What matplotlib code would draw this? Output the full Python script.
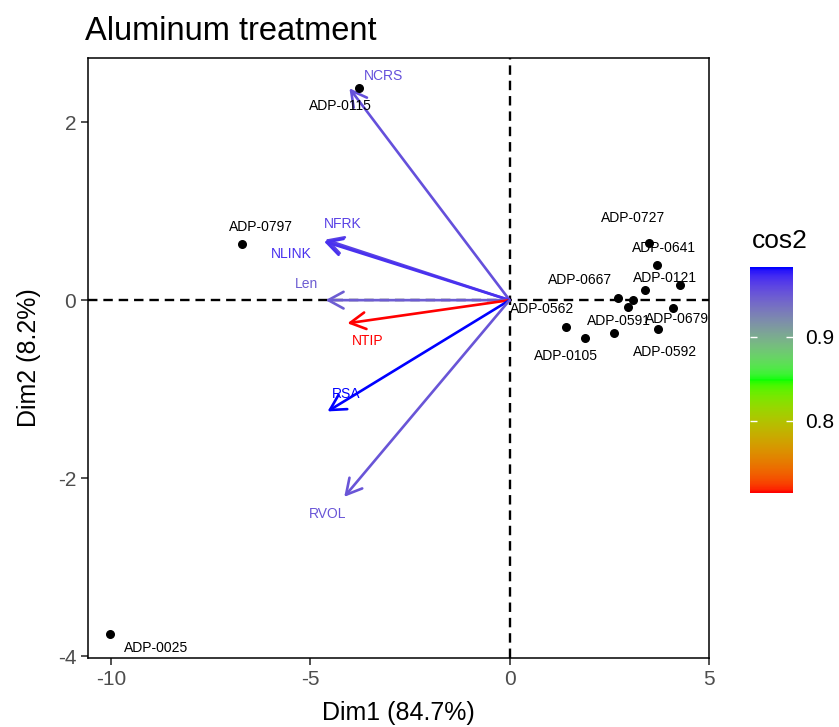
import numpy as np
import matplotlib
matplotlib.use("Agg")
import matplotlib.pyplot as plt
from matplotlib.colors import ListedColormap, Normalize

plt.rcParams['font.family'] = ['Liberation Sans', 'DejaVu Sans']
plt.rcParams['axes.unicode_minus'] = False

# individuals (Dim1, Dim2); empty label = point left unlabelled by repel
ind_names = ['ADP-0115', 'ADP-0797', 'ADP-0025', 'ADP-0727', 'ADP-0641',
             'ADP-0121', '', 'ADP-0667', '', 'ADP-0591', 'ADP-0679',
             'ADP-0592', '', 'ADP-0105', 'ADP-0562']
ind_x = [-3.79, -6.71, -10.02, 3.50, 3.71, 4.27, 3.40, 2.71, 3.10, 2.96,
         4.10, 3.72, 2.61, 1.90, 1.41]
ind_y = [2.38, 0.63, -3.75, 0.64, 0.395, 0.17, 0.11, 0.02, 0.0, -0.08,
         -0.09, -0.32, -0.37, -0.43, -0.30]

# variables (arrows) and their cos2
var_names = ['NCRS', 'NFRK', 'NLINK', 'Len', 'NTIP', 'RSA', 'RVOL']
var_x = [-4.02, -4.63, -4.66, -4.62, -4.07, -4.57, -4.15]
var_y = [2.38, 0.68, 0.66, 0.0, -0.26, -1.25, -2.21]
var_cos2 = [0.955, 0.962, 0.970, 0.948, 0.714, 0.983, 0.952]

cos2_ticks = [0.8, 0.9]

# label offsets in pixels (repel-like placement)
ind_off = [(-18, -18), (19, 17), (46, -14), (-16, 25), (7, 17), (-15, 7),
           (0, 0), (-38, 18), (0, 0), (-9, -14), (4, -11), (7, -23),
           (0, 0), (-19, -18), (-24, 18)]
var_off = [(34, 12), (18, 16), (-33, -13), (-19, 16), (20, -18), (19, 17),
           (-17, -17)]


# ggplot-style gradient red -> green -> blue interpolated in CIELAB
WHITE = np.array([0.95047, 1.0, 1.08883])
M = np.array([[0.4124, 0.3576, 0.1805],
              [0.2126, 0.7152, 0.0722],
              [0.0193, 0.1192, 0.9505]])


def to_lab(rgb):
    c = np.where(rgb <= 0.04045, rgb / 12.92, ((rgb + 0.055) / 1.055) ** 2.4)
    t = M @ c / WHITE
    f = np.where(t > 0.008856, np.cbrt(t), 7.787 * t + 16 / 116)
    return np.array([116 * f[1] - 16, 500 * (f[0] - f[1]), 200 * (f[1] - f[2])])


def from_lab(lab):
    fy = (lab[0] + 16) / 116
    f = np.array([fy + lab[1] / 500, fy, fy - lab[2] / 200])
    t = np.where(f ** 3 > 0.008856, f ** 3, (f - 16 / 116) / 7.787) * WHITE
    c = np.linalg.solve(M, t)
    c = np.where(c <= 0.0031308, 12.92 * c, 1.055 * np.clip(c, 0, None) ** (1 / 2.4) - 0.055)
    return np.clip(c, 0, 1)


anchors = [to_lab(np.array(c, float)) for c in [(1, 0, 0), (0, 1, 0), (0, 0, 1)]]
cols = []
for s in np.linspace(0, 1, 256):
    k = min(int(s * 2), 1)
    u = s * 2 - k
    cols.append(from_lab(anchors[k] * (1 - u) + anchors[k + 1] * u))
cmap = ListedColormap(cols)
norm = Normalize(vmin=min(var_cos2), vmax=max(var_cos2))

fig = plt.figure(figsize=(8.39, 7.27), dpi=100)
ax = fig.add_axes([0.1049, 0.0949, 0.740, 0.8253])

ax.axhline(0, color='black', lw=1.7, ls=(0, (4, 2.5)), zorder=1)
ax.axvline(0, color='black', lw=1.7, ls=(0, (4, 2.5)), zorder=1)

ax.scatter(ind_x, ind_y, s=30, color='black', zorder=3)
for name, x, y, off in zip(ind_names, ind_x, ind_y, ind_off):
    if name:
        ax.annotate(name, (x, y), xytext=off, textcoords='offset pixels',
                    ha='center', va='center', fontsize=10, color='black')

for name, x, y, c2, off in zip(var_names, var_x, var_y, var_cos2, var_off):
    col = cmap(norm(c2))
    ax.annotate('', xy=(x, y), xytext=(0, 0),
                arrowprops=dict(arrowstyle='->,head_length=0.55,head_width=0.3',
                                color=col, lw=1.9, shrinkA=0, shrinkB=0,
                                mutation_scale=20), zorder=2)
    ax.annotate(name, (x, y), xytext=off, textcoords='offset pixels',
                ha='center', va='center', fontsize=10, color=col)

ax.set_xlim(-10.58, 5.0)
ax.set_ylim(-4.02, 2.72)
ax.set_xticks([-10, -5, 0, 5])
ax.set_yticks([-4, -2, 0, 2])
ax.tick_params(labelsize=15, labelcolor='#4d4d4d', color='#333333',
               length=5, width=1.2)
for sp in ax.spines.values():
    sp.set_linewidth(1.1)
ax.set_xlabel('Dim1 (84.7%)', fontsize=18, labelpad=9)
ax.set_ylabel('Dim2 (8.2%)', fontsize=18, labelpad=12)

fig.text(85 / 839, 1 - 31 / 727, 'Aluminum treatment', fontsize=23.5,
         ha='left', va='center')

# colour bar legend
cax = fig.add_axes([750 / 839, 1 - 493 / 727, 43 / 839, 226 / 727])
grad = np.linspace(norm.vmin, norm.vmax, 300).reshape(-1, 1)
cax.imshow(grad, aspect='auto', origin='lower', cmap=cmap, norm=norm,
           extent=[0, 1, norm.vmin, norm.vmax])
cax.set_xticks([])
cax.set_yticks(cos2_ticks)
cax.yaxis.tick_right()
cax.tick_params(axis='y', direction='in', color='white', length=5, width=1,
                labelsize=15, labelcolor='black', pad=9,
                left=True, right=True)
for sp in cax.spines.values():
    sp.set_visible(False)
fig.text(752 / 839, 1 - 241 / 727, 'cos2', fontsize=19, ha='left', va='center')

fig.savefig('out.png', dpi=100)
